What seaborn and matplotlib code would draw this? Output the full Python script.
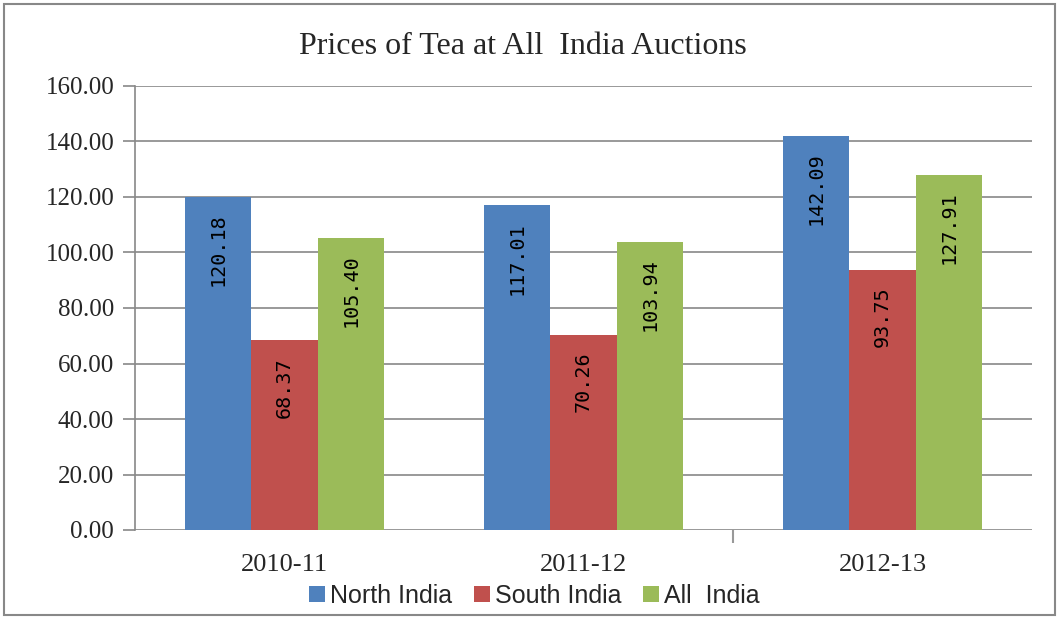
import matplotlib
matplotlib.use("Agg")
import matplotlib.pyplot as plt
import seaborn as sns
import pandas as pd
from matplotlib.patches import Rectangle

years = ["2010-11", "2011-12", "2012-13"]
series = ["North India", "South India", "All  India"]
north = [120.18, 117.01, 142.09]
south = [68.37, 70.26, 93.75]
all_india = [105.40, 103.94, 127.91]
colors = ["#4F81BD", "#C0504D", "#9BBB59"]

rows = []
for name, vals in zip(series, [north, south, all_india]):
    for y, v in zip(years, vals):
        rows.append({"Year": y, "Series": name, "Price": v})
df = pd.DataFrame(rows)

sns.set_style("white")
fig = plt.figure(figsize=(10.57, 6.19), dpi=100)
ax = fig.add_axes([135/1057, 1-530/619, (1032-135)/1057, (530-86)/619])

sns.barplot(data=df, x="Year", y="Price", hue="Series", palette=colors,
            width=0.667, saturation=1, ax=ax, errorbar=None, legend=True,
            linewidth=0)

ax.set_ylim(0, 160)
ax.set_xlim(-0.5, 2.5)
ax.set_yticks(range(0, 161, 20))
ax.set_yticklabels([f"{v:.2f}" for v in range(0, 161, 20)],
                   fontfamily="Liberation Serif", fontsize=18)
ax.set_xticks(range(3))
ax.set_xticklabels(years, fontfamily="Liberation Serif", fontsize=19)
ax.set_xticks([1.5], minor=True)
ax.tick_params(axis="y", left=True, length=9, color="#888888", width=1.2, pad=6)
ax.tick_params(axis="x", which="major", bottom=False, length=0, pad=17)
ax.tick_params(axis="x", which="minor", bottom=True, length=9, color="#999999",
               width=1.5, direction="out", pad=0)
ax.set_xlabel("")
ax.set_ylabel("")
ax.yaxis.grid(True, color="#888888", linewidth=1.2)
ax.set_axisbelow(True)
for s in ["top", "right", "bottom"]:
    ax.spines[s].set_visible(False)
ax.spines["left"].set_color("#888888")
ax.spines["left"].set_linewidth(1.2)

for cont in ax.containers:
    for bar in cont:
        h = bar.get_height()
        ax.annotate(f"{h:.2f}", xy=(bar.get_x() + bar.get_width()/2, h),
                    xytext=(0, -12), textcoords="offset points",
                    rotation=90, ha="center", va="top",
                    fontfamily="DejaVu Sans Mono", fontsize=14.5, color="black")

fig.text(0.495, 1-46/619, "Prices of Tea at All  India Auctions",
         fontfamily="Liberation Serif", fontsize=23, ha="center", va="center")

leg = ax.legend(loc="center", bbox_to_anchor=(0.445, -0.148), ncol=3,
                frameon=False, prop={"family": "Liberation Sans", "size": 18},
                handlelength=0.65, handleheight=0.65, handletextpad=0.2,
                columnspacing=0.85)

fig.patches.append(Rectangle((4/1057, 4/619), 1051/1057, 611/619,
                             transform=fig.transFigure, fill=False,
                             edgecolor="#888888", linewidth=1.5))

fig.savefig("out.png", dpi=100)
